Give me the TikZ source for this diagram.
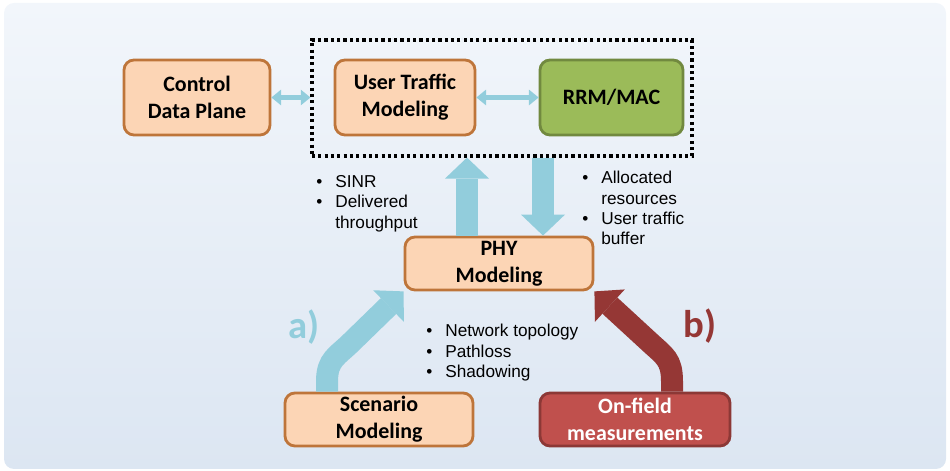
\documentclass[tikz,border=0pt]{standalone}
\usepackage{fontspec}
\setmainfont{Liberation Sans}
\newfontfamily\boxfont{Carlito}
\usetikzlibrary{arrows.meta}
\definecolor{peach}{RGB}{252,213,181}
\definecolor{peachedge}{RGB}{190,117,58}
\definecolor{leaf}{RGB}{155,187,89}
\definecolor{leafedge}{RGB}{113,137,63}
\definecolor{brick}{RGB}{192,80,77}
\definecolor{brickedge}{RGB}{140,56,54}
\definecolor{sky}{RGB}{146,205,220}
\definecolor{wine}{RGB}{149,55,53}
\definecolor{bgtop}{RGB}{242,246,251}
\definecolor{bgbot}{RGB}{220,230,242}
\newcommand\bul{\makebox[10.8pt][l]{\textbullet}}
\newcommand\nobul{\hspace*{10.8pt}}
\begin{document}
\begin{tikzpicture}[
    block/.style={draw=peachedge, fill=peach, line width=1.6pt, rounded corners=0.2cm,
      align=center, inner sep=2pt, font=\boxfont\bfseries\fontsize{12.5}{15.3}\selectfont},
    note/.style={anchor=north west, inner sep=0pt, align=left, font=\fontsize{9.8}{11.6}\selectfont},
    link/.style={sky, line width=2.6pt,
      {Triangle[width=9pt,length=5.5pt,line width=0pt]}-{Triangle[width=9pt,length=5.5pt,line width=0pt]}},
    flow/.style={line width=0.44cm, -{Triangle[width=0.88cm,length=0.42cm,line width=0pt]}},
    casetag/.style={font=\boxfont\bfseries\fontsize{22}{26}\selectfont}
  ]
  \useasboundingbox (0,0) rectangle (19,9.42);
  \shade[top color=bgtop, bottom color=bgbot, rounded corners=0.2cm] (0.08,0.04) rectangle (18.92,9.36);

  % top row
  \node[block, minimum width=2.92cm, minimum height=1.5cm] (ctrl) at (3.94,7.47) {Control\\Data Plane};
  \node[block, minimum width=2.8cm, minimum height=1.5cm] (traffic) at (8.1,7.47) {User Traffic\\Modeling};
  \node[block, draw=leafedge, fill=leaf, minimum width=2.86cm, minimum height=1.5cm] (rrm) at (12.23,7.47) {RRM/MAC};
  \node[draw, line width=1.8pt, dash pattern=on 1.8pt off 1.8pt, minimum width=7.6cm, minimum height=2.32cm] (core) at (10.04,7.46) {};

  % lower blocks
  \node[block, minimum width=3.76cm, minimum height=1.06cm] (phy) at (9.98,4.15) {PHY\\Modeling};
  \node[block, minimum width=3.76cm, minimum height=1.06cm] (scen) at (7.58,1.03) {Scenario\\Modeling};
  \node[block, draw=brickedge, fill=brick, text=white, minimum width=3.8cm, minimum height=1.06cm] (field) at (12.7,1.03) {On-field\\measurements};

  \draw[link] (ctrl.east) -- (core.west |- ctrl.east);
  \draw[link] (traffic.east) -- (rrm.west);

  \draw[flow, sky] ([xshift=-0.64cm]phy.north) -- ([xshift=-0.64cm]phy.north |- core.south);
  \draw[flow, sky] ([xshift=0.88cm]phy.north |- core.south) -- ([xshift=0.88cm]phy.north);
  \draw[flow, sky] ([xshift=-1.04cm]scen.north) -- ++(0,0.2)
    .. controls +(0,0.45) and +(-0.3,-0.3) .. ++(0.5,0.8) -- (phy.south west);
  \draw[flow, wine] ([xshift=0.74cm]field.north) -- ++(0,0.2)
    .. controls +(0,0.45) and +(0.3,-0.28) .. ++(-0.45,0.79) -- (phy.south east);

  \node[note] (upinfo) at (6.32,5.92) {\bul SINR\\\bul Delivered\\\nobul throughput};
  \node[note] (downinfo) at (11.64,6.0) {\bul Allocated\\\nobul resources\\\bul User traffic\\\nobul buffer};
  \node[note] (scninfo) at (8.52,2.94) {\bul Network topology\\\bul Pathloss\\\bul Shadowing};

  \node[casetag, sky] (casea) at (6.08,2.88) {a)};
  \node[casetag, wine] (caseb) at (14.0,2.9) {b)};
\end{tikzpicture}
\end{document}
